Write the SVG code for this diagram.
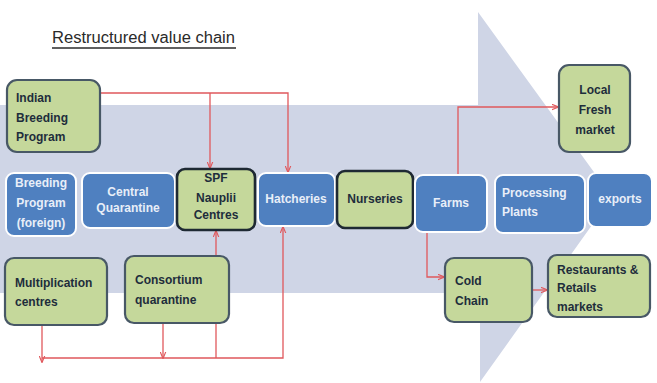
<svg xmlns="http://www.w3.org/2000/svg" width="657" height="383" viewBox="0 0 657 383">
<defs>
<style>
.bg{fill:#cfd5e6}
.blue rect{fill:#4f80c0;stroke:#ffffff;stroke-width:2}
.blue text{fill:#e8eef8}
.green rect{fill:#c5d89b;stroke:#485866;stroke-width:2.2}
.green.dark rect{stroke:#1e2933;stroke-width:2.6}
.green text{fill:#1e2d3c}
text{font-family:"Liberation Sans",Arial,sans-serif;font-size:12px;font-weight:bold}
.c{text-anchor:middle}
.conn path{fill:none;stroke:#e0585c;stroke-width:1.3}
</style>
<marker id="ah" viewBox="0 0 10 10" refX="9" refY="5" markerWidth="7" markerHeight="7" orient="auto" markerUnits="userSpaceOnUse">
<path d="M0,1 L10,5 L0,9" fill="none" stroke="#e0585c" stroke-width="1.6"/>
</marker>
</defs>
<rect width="657" height="383" fill="#ffffff"/>
<path class="bg" d="M0,105 H478 V12 L612,197 L480,382 V293 H0 Z"/>
<g id="title">
<text x="52" y="43" style="font-family:'Liberation Sans',Arial,sans-serif;font-size:16px;font-weight:normal;fill:#2a2a2a" textLength="183" lengthAdjust="spacingAndGlyphs">Restructured value chain</text>
<line x1="52" y1="48" x2="236" y2="48" stroke="#2a2a2a" stroke-width="1.3"/>
</g>
<g class="conn">
<path d="M100,93 H288 V172" marker-end="url(#ah)"/>
<path d="M210,93 V168" marker-end="url(#ah)"/>
<path d="M42,358 H283 V227" marker-end="url(#ah)"/>
<path d="M42,325 V362" marker-end="url(#ah)"/>
<path d="M163,323 V358" marker-end="url(#ah)"/>
<path d="M216,358 V231" marker-end="url(#ah)"/>
<path d="M458,175 V107 H558" marker-end="url(#ah)"/>
<path d="M427,232 V277 H444" marker-end="url(#ah)"/>
<path d="M532,290 H547" marker-end="url(#ah)"/>
</g>
<g id="indian" class="green"><rect x="7" y="80" width="93" height="72" rx="10"/><text x="16" y="102">Indian</text><text x="16" y="122">Breeding</text><text x="16" y="141">Program</text></g>
<g id="breeding-foreign" class="blue"><rect x="6" y="173" width="70" height="63" rx="8"/><text class="c" x="41" y="187">Breeding</text><text class="c" x="41" y="207">Program</text><text class="c" x="41" y="227">(foreign)</text></g>
<g id="central-quarantine" class="blue"><rect x="82" y="173" width="93" height="55" rx="8"/><text class="c" x="128" y="196">Central</text><text class="c" x="128" y="212">Quarantine</text></g>
<g id="spf" class="green dark"><rect x="177" y="169" width="78" height="61" rx="8"/><text class="c" x="216" y="182">SPF</text><text class="c" x="216" y="202">Nauplii</text><text class="c" x="216" y="219">Centres</text></g>
<g id="hatcheries" class="blue"><rect x="258" y="173" width="77" height="53" rx="8"/><text class="c" x="296" y="203">Hatcheries</text></g>
<g id="nurseries" class="green dark"><rect x="337" y="171" width="76" height="57" rx="8"/><text class="c" x="375" y="203">Nurseries</text></g>
<g id="farms" class="blue"><rect x="415" y="175" width="72" height="57" rx="8"/><text class="c" x="451" y="207">Farms</text></g>
<g id="processing" class="blue"><rect x="495" y="175" width="90" height="58" rx="8"/><text x="502" y="197">Processing</text><text x="502" y="216">Plants</text></g>
<g id="exports" class="blue"><rect x="588" y="173" width="64" height="54" rx="8"/><text class="c" x="620" y="203">exports</text></g>
<g id="multiplication" class="green"><rect x="5" y="258" width="102" height="67" rx="9"/><text x="15" y="287">Multiplication</text><text x="15" y="306">centres</text></g>
<g id="consortium" class="green"><rect x="125" y="256" width="104" height="67" rx="9"/><text x="135" y="284">Consortium</text><text x="135" y="304">quarantine</text></g>
<g id="local-fresh" class="green"><rect x="559" y="65" width="71" height="87" rx="10"/><text class="c" x="595" y="94">Local</text><text class="c" x="595" y="114">Fresh</text><text class="c" x="595" y="134">market</text></g>
<g id="cold-chain" class="green"><rect x="445" y="258" width="87" height="64" rx="9"/><text x="455" y="285">Cold</text><text x="455" y="305">Chain</text></g>
<g id="restaurants" class="green"><rect x="548" y="255" width="102" height="62" rx="9"/><text x="557" y="274">Restaurants &amp;</text><text x="557" y="292">Retails</text><text x="557" y="311">markets</text></g>
</svg>
